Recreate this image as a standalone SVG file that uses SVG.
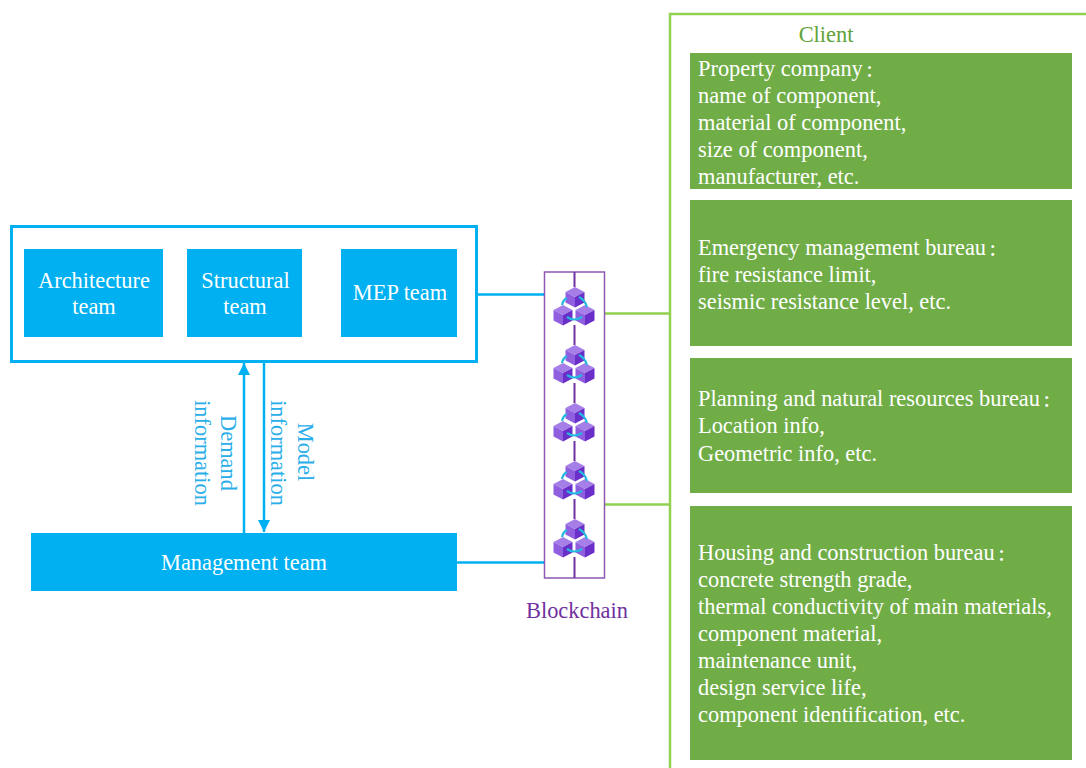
<svg xmlns="http://www.w3.org/2000/svg" width="1086" height="768" viewBox="0 0 1086 768">
<style>
text{font-family:"Liberation Serif","Times New Roman","Noto Sans CJK SC",serif;font-size:22.4px}
.b{fill:#00b0f0}.g{fill:#70ad47}
.wt{fill:#fff}.bt{fill:#29aeea}
.c{font-size:15px;font-weight:700}
.line{fill:none;stroke:#00b0f0;stroke-width:2.5}
.gl{fill:none;stroke:#92d050;stroke-width:2.5}
.pl{fill:none;stroke:#7030a0;stroke-width:2}
.top{fill:#a67ee8}.lf{fill:#8f5fdf}.rt{fill:#6b2fc9}
.arc{fill:none;stroke:#22b8e0;stroke-width:2.200}
</style>
<defs>
<g id="cube"><path class="top" d="M0-10 9.500-5 0 0-9.500-5Z"/><path class="lf" d="M-9.500-5 0 0V10.500L-9.500 5.500Z"/><path class="rt" d="M9.500-5 0 0V10.500L9.500 5.500Z"/></g>
<g id="cluster">
<use href="#cube" x="1" y="10"/><use href="#cube" x="-11" y="28"/><use href="#cube" x="11" y="28"/>
<path class="arc" d="M-12 18Q-11 13-7 11M13 20Q11 13 5 10M-7 30Q0 35 8 30"/></g>
<marker id="ah" markerWidth="14" markerHeight="14" refX="12" refY="6" orient="auto" markerUnits="userSpaceOnUse"><path d="M0 0 12 6 0 12Z" fill="#00b0f0"/></marker>
</defs>
<g id="connectors">
<path class="line" d="M477 294.500H544M457 562.500H544"/>
<path class="gl" d="M605 313.500H670M605 504.500H670"/>
<path class="line" d="M244 533V363" marker-end="url(#ah)"/>
<path class="line" d="M264 362V532" marker-end="url(#ah)"/>
</g>
<g id="dev-team"><rect x="11.500" y="226.500" width="465" height="135" fill="none" stroke="#00b0f0" stroke-width="3"/></g>
<g id="architecture"><rect class="b" x="24" y="249" width="139" height="88"/><text class="wt" x="94" y="288" text-anchor="middle">Architecture</text><text class="wt" x="94" y="314" text-anchor="middle">team</text></g>
<g id="structural"><rect class="b" x="187" y="249" width="115" height="88"/><text class="wt" x="245.500" y="288" text-anchor="middle">Structural</text><text class="wt" x="245" y="314" text-anchor="middle">team</text></g>
<g id="mep"><rect class="b" x="341" y="249" width="116" height="88"/><text class="wt" x="400" y="300" text-anchor="middle">MEP team</text></g>
<g id="management"><rect class="b" x="31" y="533" width="426" height="58"/><text class="wt" x="244" y="570" text-anchor="middle">Management team</text></g>
<g id="demand-label"><text class="bt" transform="translate(221 453) rotate(90)" text-anchor="middle">Demand</text><text class="bt" transform="translate(195 453) rotate(90)" text-anchor="middle">information</text></g>
<g id="model-label"><text class="bt" transform="translate(298 452) rotate(90)" text-anchor="middle">Model</text><text class="bt" transform="translate(271 453) rotate(90)" text-anchor="middle">information</text></g>
<g id="blockchain">
<rect x="544.500" y="272" width="60" height="306" fill="none" stroke="#7030a0" stroke-width="1.500" opacity=".8"/>
<path class="pl" d="M574.500 272V287M574.500 325V345M574.500 383V403M574.500 441V461M574.500 499V519M574.500 557V578"/>
<use href="#cluster" x="574" y="287"/><use href="#cluster" x="574" y="345"/><use href="#cluster" x="574" y="403"/><use href="#cluster" x="574" y="461"/><use href="#cluster" x="574" y="519"/>
<text x="577" y="618" text-anchor="middle" fill="#7030a0">Blockchain</text>
</g>
<g id="client"><path class="gl" d="M670 768V14H1086"/><text x="826" y="42" text-anchor="middle" fill="#5fa33a">Client</text></g>
<g id="property"><rect class="g" x="690" y="53" width="382" height="136"/><text class="wt" x="698" y="76">Property company<tspan class="c" dx="3">：</tspan></text><text class="wt" x="698" y="103">name of component,</text><text class="wt" x="698" y="130">material of component,</text><text class="wt" x="698" y="157">size of component,</text><text class="wt" x="698" y="184">manufacturer, etc.</text></g>
<g id="emergency"><rect class="g" x="690" y="200" width="382" height="146"/><text class="wt" x="698" y="255">Emergency management bureau<tspan class="c" dx="3">：</tspan></text><text class="wt" x="698" y="282">fire resistance limit,</text><text class="wt" x="698" y="309">seismic resistance level, etc.</text></g>
<g id="planning"><rect class="g" x="690" y="358" width="382" height="135"/><text class="wt" x="698" y="406">Planning and natural resources bureau<tspan class="c" dx="3">：</tspan></text><text class="wt" x="698" y="433">Location info,</text><text class="wt" x="698" y="461">Geometric info, etc.</text></g>
<g id="housing"><rect class="g" x="690" y="506" width="382" height="254"/><text class="wt" x="698" y="560">Housing and construction bureau<tspan class="c" dx="3">：</tspan></text><text class="wt" x="698" y="587">concrete strength grade,</text><text class="wt" x="698" y="614">thermal conductivity of main materials,</text><text class="wt" x="698" y="641">component material,</text><text class="wt" x="698" y="668">maintenance unit,</text><text class="wt" x="698" y="695">design service life,</text><text class="wt" x="698" y="722">component identification, etc.</text></g>
</svg>
